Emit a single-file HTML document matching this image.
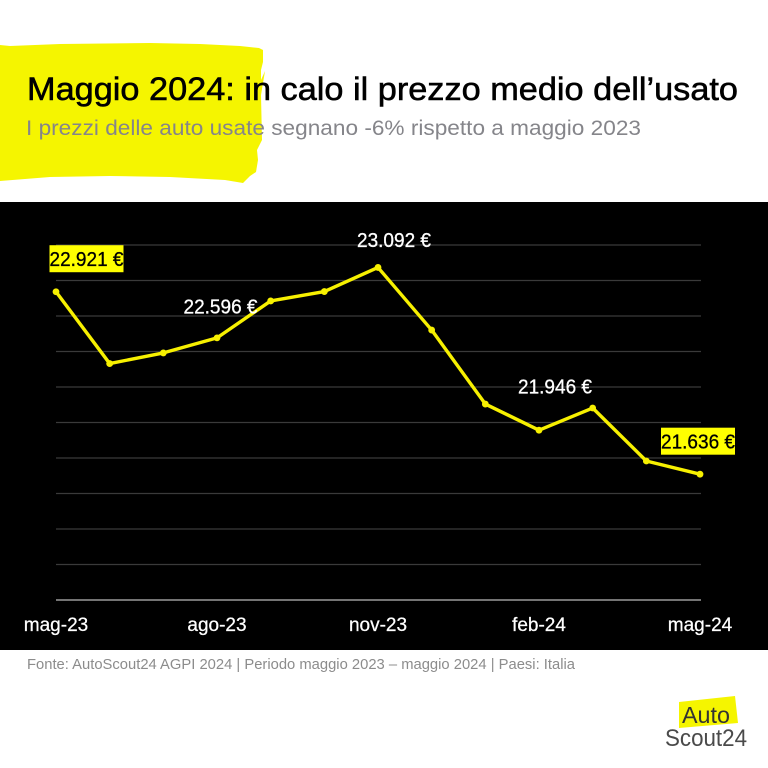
<!DOCTYPE html>
<html lang="it">
<head>
<meta charset="utf-8">
<title>Maggio 2024: in calo il prezzo medio dell'usato</title>
<style>
html,body{margin:0;padding:0;background:#fff;width:768px;height:768px;overflow:hidden}
svg{display:block}
text{font-family:"Liberation Sans",sans-serif}
</style>
</head>
<body>
<svg id="root" xmlns="http://www.w3.org/2000/svg" width="768" height="768" viewBox="0 0 768 768">
  <rect width="768" height="768" fill="#fff"/>
  <polygon fill="#f5f500" points="0,45 10,46 60,44 150,43 200,44 240,46 259,48 263,50 263,62 261,70 261,80 265,71 259,84 265,71 261,95 262,140 257,150 258,160 256,172 250,176 243,183 225,180 170,177 110,176 50,177 0,181"/>
  <text x="27" y="100" font-size="32" font-weight="400" stroke="#000" stroke-width="0.55" fill="#000" textLength="711" lengthAdjust="spacingAndGlyphs">Maggio 2024: in calo il prezzo medio dell’usato</text>
  <text x="26" y="135" font-size="21.5" fill="#85858a" textLength="615" lengthAdjust="spacingAndGlyphs">I prezzi delle auto usate segnano -6% rispetto a maggio 2023</text>
  <rect x="0" y="202" width="768" height="448" fill="#000"/>
  <g id="grid"></g>
  <g id="xlabels"></g>
  <g id="series"></g>
  <g id="annotations"></g>
  <text x="27" y="669" font-size="14.5" fill="#8c8c8c" textLength="548" lengthAdjust="spacingAndGlyphs">Fonte: AutoScout24 AGPI 2024 | Periodo maggio 2023 – maggio 2024 | Paesi: Italia</text>
  <g>
    <polygon fill="#f5f500" points="679,702 735,696 738,723 679,728"/>
    <text x="682" y="723" font-size="23" fill="#333" textLength="48" lengthAdjust="spacingAndGlyphs">Auto</text>
    <text x="665" y="746" font-size="24" fill="#4a4a4a" textLength="82" lengthAdjust="spacingAndGlyphs">Scout24</text>
  </g>
</svg>
<script>
const categories = ["mag-23","giu-23","lug-23","ago-23","set-23","ott-23","nov-23","dic-23","gen-24","feb-24","mar-24","apr-24","mag-24"];
const prices = [22921,22415,22490,22596,22856,22922,23092,22651,22130,21946,22102,21729,21636];
const gridTicks = [20750,21000,21250,21500,21750,22000,22250,22500,22750,23000,23250];
const axisLabels = ["mag-23","ago-23","nov-23","feb-24","mag-24"];
const labelledMonths = ["mag-23","ago-23","nov-23","feb-24","mag-24"];

const NS = "http://www.w3.org/2000/svg";
const plot = {left:56, right:700, top:245, bottom:600};
const domainMin = gridTicks[0], domainMax = gridTicks[gridTicks.length-1];
function xScale(i){ return plot.left + i*(plot.right-plot.left)/(categories.length-1); }
function yScale(v){ return plot.bottom - (v-domainMin)*(plot.bottom-plot.top)/(domainMax-domainMin); }
function make(tag, attrs, parent, text){
  const el = document.createElementNS(NS, tag);
  for (const k in attrs) el.setAttribute(k, attrs[k]);
  if (text !== undefined) el.textContent = text;
  parent.appendChild(el);
  return el;
}
function formatEuro(v){ return String(v).replace(/(\d)(\d{3})$/, "$1.$2") + " €"; }

const gridG = document.getElementById("grid");
gridTicks.forEach(function(t, i){
  const line = make("line", {x1:plot.left, x2:plot.right+1, y1:yScale(t), y2:yScale(t), stroke: i===0 ? "#9a9a9a" : "#3a3a3a", "stroke-width": i===0 ? 1.5 : 1.2}, gridG);
  
  
});

const xG = document.getElementById("xlabels");
axisLabels.forEach(function(lab){
  const idx = categories.indexOf(lab);
  const t = make("text", {x:xScale(idx), y:631, "text-anchor":"middle", "font-size":19, fill:"#fff", stroke:"#fff", "stroke-width":0.25}, xG, lab);
  
  
});

const sG = document.getElementById("series");
const pts = prices.map(function(v,i){ return xScale(i)+","+yScale(v); }).join(" ");
const pl = make("polyline", {points:pts, fill:"none", stroke:"#f7f000", "stroke-width":3.4, "stroke-linejoin":"round"}, sG);


prices.forEach(function(v,i){
  const c = make("circle", {cx:xScale(i), cy:yScale(v), r:3.4, fill:"#f7f000"}, sG);
  
  
});

function drawAnnotations(){
  const aG = document.getElementById("annotations");
  const styleByMonth = {0:{dx:30.5,dy:-33,box:true},1:{dx:3.5,dy:-32,box:false},2:{dx:16,dy:-28,box:false},3:{dx:16,dy:-44,box:false},4:{dx:-2,dy:-33,box:true}};
  labelledMonths.forEach(function(m, k){
    const i = categories.indexOf(m);
    const s = styleByMonth[k];
    const cx = xScale(i)+s.dx, cy = yScale(prices[i])+s.dy;
    if (s.box){
      const r = make("rect", {x:cx-37, y:cy-13.5, width:74, height:27, fill:"#ffff00"}, aG);
      
      
    }
    const c = s.box ? "#000" : "#fff";
    const t = make("text", {x:cx, y:cy+7.5, "text-anchor":"middle", "font-size":20.5, fill:c, stroke:c, "stroke-width":0.3, textLength:74, lengthAdjust:"spacingAndGlyphs"}, aG, formatEuro(prices[i]));
    
    
  });
}
drawAnnotations();
</script>
</body>
</html>
